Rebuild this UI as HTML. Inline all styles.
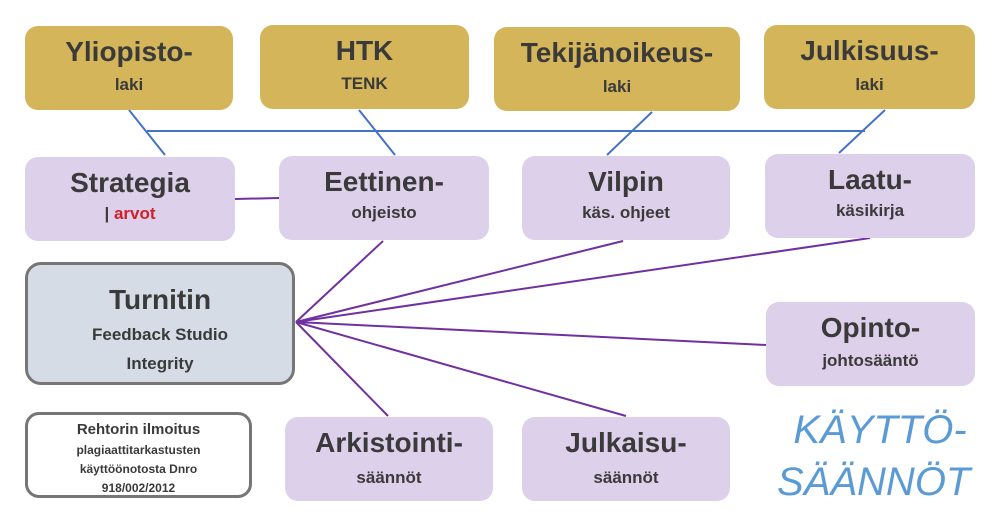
<!DOCTYPE html>
<html><head><meta charset="utf-8"><style>
body{margin:0;width:1000px;height:521px;background:#fff;position:relative;overflow:hidden;font-family:"Liberation Sans",sans-serif;color:#3a3a3a}
.b{position:absolute;border-radius:13px;box-sizing:border-box;text-align:center;font-weight:bold}
.g{background:#d4b55a}
.p{background:#ddd0ea}
.t{position:absolute;left:0;right:0;font-size:28px;line-height:30px}
.s{position:absolute;left:0;right:0;font-size:17px;line-height:20px}
svg{position:absolute;left:0;top:0}
</style></head><body>
<svg width="1000" height="521">
<g stroke="#4472c4" stroke-width="2">
<line x1="147" y1="131" x2="865" y2="131"/>
<line x1="129" y1="110" x2="165" y2="155"/>
<line x1="359" y1="110" x2="395" y2="155"/>
<line x1="652" y1="112" x2="607" y2="155"/>
<line x1="885" y1="110" x2="839" y2="153"/>
</g>
<g stroke="#7030a0" stroke-width="2">
<line x1="235" y1="199" x2="279" y2="198"/>
<line x1="296" y1="322" x2="383" y2="241"/>
<line x1="296" y1="322" x2="623" y2="241"/>
<line x1="296" y1="322" x2="870" y2="238"/>
<line x1="296" y1="322" x2="766" y2="345"/>
<line x1="296" y1="322" x2="388" y2="416"/>
<line x1="296" y1="322" x2="626" y2="416"/>
</g>
</svg>
<div class="b g" style="left:25px;top:26px;width:208px;height:84px"><div class="t" style="top:11px">Yliopisto-</div><div class="s" style="top:49px">laki</div></div>
<div class="b g" style="left:260px;top:25px;width:209px;height:84px"><div class="t" style="top:11px">HTK</div><div class="s" style="top:49px">TENK</div></div>
<div class="b g" style="left:494px;top:27px;width:246px;height:84px"><div class="t" style="top:11px">Tekijänoikeus-</div><div class="s" style="top:50px">laki</div></div>
<div class="b g" style="left:764px;top:25px;width:211px;height:84px"><div class="t" style="top:11px">Julkisuus-</div><div class="s" style="top:50px">laki</div></div>

<div class="b p" style="left:25px;top:157px;width:210px;height:84px"><div class="t" style="top:11px">Strategia</div><div class="s" style="top:47px">| <span style="color:#d0202a">arvot</span></div></div>
<div class="b p" style="left:279px;top:156px;width:210px;height:84px"><div class="t" style="top:11px">Eettinen-</div><div class="s" style="top:47px">ohjeisto</div></div>
<div class="b p" style="left:522px;top:156px;width:208px;height:84px"><div class="t" style="top:11px">Vilpin</div><div class="s" style="top:47px">käs. ohjeet</div></div>
<div class="b p" style="left:765px;top:154px;width:210px;height:84px"><div class="t" style="top:11px">Laatu-</div><div class="s" style="top:47px">käsikirja</div></div>

<div class="b" style="left:25px;top:262px;width:270px;height:123px;background:#d6dce5;border:3px solid #767676;border-radius:16px"><div class="t" style="top:20px">Turnitin</div><div class="s" style="top:60px">Feedback Studio</div><div class="s" style="top:89px">Integrity</div></div>
<div class="b" style="left:25px;top:412px;width:227px;height:86px;background:#fff;border:3px solid #767676;border-radius:14px"><div class="s" style="top:5px;font-size:15px">Rehtorin ilmoitus</div><div class="s" style="top:26px;font-size:12px;line-height:18px">plagiaattitarkastusten</div><div class="s" style="top:45px;font-size:12px;line-height:18px">käyttöönotosta Dnro</div><div class="s" style="top:64px;font-size:12px;line-height:18px">918/002/2012</div></div>

<div class="b p" style="left:766px;top:302px;width:209px;height:84px"><div class="t" style="top:11px">Opinto-</div><div class="s" style="top:49px">johtosääntö</div></div>
<div class="b p" style="left:285px;top:417px;width:208px;height:84px"><div class="t" style="top:11px">Arkistointi-</div><div class="s" style="top:51px">säännöt</div></div>
<div class="b p" style="left:522px;top:417px;width:208px;height:84px"><div class="t" style="top:11px">Julkaisu-</div><div class="s" style="top:51px">säännöt</div></div>

<div style="position:absolute;left:777px;top:404px;width:190px;text-align:center;color:#5b9bd5;font-style:italic;font-size:40px;line-height:52px"><span style="position:relative;left:8px">KÄYTTÖ-</span><br>SÄÄNNÖT</div>
</body></html>
